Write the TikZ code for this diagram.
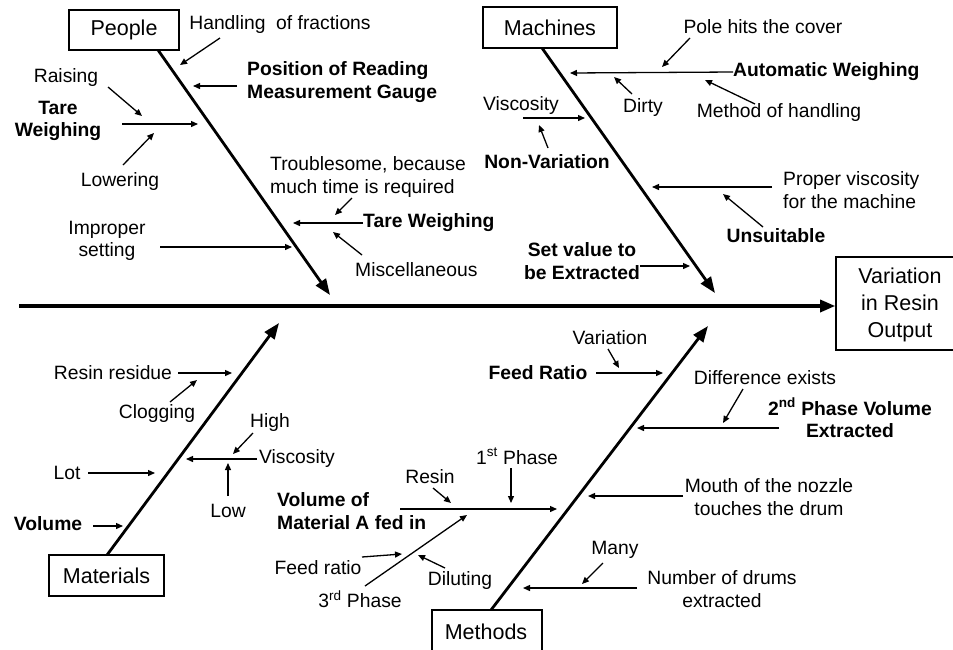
\documentclass[tikz,border=0pt]{standalone}
\usepackage{fontspec}
\setmainfont{Liberation Sans}
\usetikzlibrary{arrows.meta}
\newcommand\fsz{\fontsize{19.3}{22.5}\selectfont}
\newcommand\fcat{\fontsize{21.5}{27}\selectfont}
\tikzset{
  lbl/.style={font=\fsz, inner sep=0pt, align=center},
  blbl/.style={font=\fsz\bfseries, inner sep=0pt, align=center},
  catbox/.style={draw, line width=1.6pt, font=\fcat, inner sep=0pt, align=center},
  bone/.style={line width=2.8pt, -{Triangle[length=16pt,width=12pt]}},
  spine/.style={line width=3.2pt, -{Triangle[length=15pt,width=12pt]}},
  subarr/.style={line width=1.3pt, -{Triangle[length=7pt,width=6pt]}},
}
\begin{document}
\begin{tikzpicture}[x=1pt,y=-1pt]
\useasboundingbox (0,0) rectangle (953,649);
\clip (0,0) rectangle (953,649);
\fill[white] (0,0) rectangle (953,649);

% ---------- category boxes ----------
\node[catbox, minimum width=110pt, minimum height=40pt] (people) at (124,30) {People};
\node[catbox, minimum width=134pt, minimum height=41pt] (machines) at (550,27.5) {Machines};
\node[catbox, minimum width=115pt, minimum height=41pt] (materials) at (106.5,575.5) {Materials};
\node[catbox, minimum width=110pt, minimum height=44pt] (methods) at (487,632) {};
\node[font=\fcat, inner sep=0pt] (methodst) at (486,632) {Methods};
\node[catbox, minimum width=130pt, minimum height=93pt] (effect) at (901,303.5) {};
\node[font=\fcat, inner sep=0pt, align=center] (effectt) at (900,305) {Variation\\in Resin\\Output};

% ---------- spine and bones ----------
\coordinate (spst) at (19,306);
\draw[spine] (spst) -- (effect.west |- spst);

\coordinate (pb0) at (158,50);   \coordinate (pb1) at (330,295);
\coordinate (mb0) at (542,48);   \coordinate (mb1) at (715,293);
\coordinate (tb0) at (107,555);  \coordinate (tb1) at (279,323);
\coordinate (hb0) at (491,610);  \coordinate (hb1) at (708,326);
\draw[bone] (pb0) -- (pb1);
\draw[bone] (mb0) -- (mb1);
\draw[bone] (tb0) -- (tb1);
\draw[bone] (hb0) -- (hb1);

% ---------- People ----------
\node[lbl] (handling) at (280,25) {Handling\ \ of fractions};
\node[blbl, align=left, anchor=west] (position) at (247,82) {Position of Reading\\Measurement Gauge};
\node[lbl] (raising) at (66,78) {Raising};
\node[blbl] (tarew1) at (58,121) {Tare\\Weighing};
\node[lbl] (lowering) at (120,182) {Lowering};
\node[lbl, align=left, anchor=west] (trouble) at (270,177) {Troublesome, because\\much time is required};
\node[blbl, anchor=west] (tarew2) at (363,223) {Tare Weighing};
\node[lbl, anchor=west] (misc) at (355,270) {Miscellaneous};
\node[lbl] (improper) at (107,241) {Improper\\setting};

\coordinate (p1a) at (220,38);  \coordinate (p1b) at (180,65);
\coordinate (p2a) at (237,86);  \coordinate (p2b) at (193,86);
\coordinate (p3a) at (108,87);  \coordinate (p3b) at (142,116);
\coordinate (p4a) at (122,124); \coordinate (p4b) at (198,124);
\coordinate (p5a) at (123,165); \coordinate (p5b) at (154,133);
\coordinate (p6a) at (352,198); \coordinate (p6b) at (335,215);
\coordinate (p7b) at (293,223);
\coordinate (p8a) at (362,255); \coordinate (p8b) at (333,232);
\coordinate (p9a) at (160,247); \coordinate (p9b) at (292,247);
\draw[subarr] (p1a) -- (p1b);
\draw[subarr] (p2a) -- (p2b);
\draw[subarr] (p3a) -- (p3b);
\draw[subarr] (p4a) -- (p4b);
\draw[subarr] (p5a) -- (p5b);
\draw[subarr] (p6a) -- (p6b);
\draw[subarr] (tarew2.west) -- (p7b);
\draw[subarr] (p8a) -- (p8b);
\draw[subarr] (p9a) -- (p9b);

% ---------- Machines ----------
\node[lbl] (pole) at (763,27) {Pole hits the cover};
\node[blbl, anchor=west] (autow) at (733,72) {Automatic Weighing};
\node[lbl] (dirty) at (643,108) {Dirty};
\node[lbl] (methodh) at (779,113) {Method of handling};
\node[lbl] (visc1) at (521,106) {Viscosity};
\node[blbl] (nonvar) at (547,162) {Non-Variation};
\node[lbl, align=left, anchor=west] (proper) at (783,190) {Proper viscosity\\for the machine};
\node[blbl] (unsuit) at (776,236) {Unsuitable};
\node[blbl] (setval) at (582,261) {Set value to\\be Extracted};

\coordinate (m1a) at (690,38);  \coordinate (m1b) at (662,67);
\coordinate (m2b) at (570,73);
\coordinate (m3a) at (632,94);  \coordinate (m3b) at (614,77);
\coordinate (m4a) at (755,104); \coordinate (m4b) at (705,80);
\coordinate (m5a) at (523,118); \coordinate (m5b) at (585,118);
\coordinate (m6a) at (548,148); \coordinate (m6b) at (539,125);
\coordinate (m7a) at (772,187); \coordinate (m7b) at (652,187);
\coordinate (m8a) at (763,227); \coordinate (m8b) at (723,194);
\coordinate (m9a) at (640,266); \coordinate (m9b) at (690,266);
\draw[subarr] (m1a) -- (m1b);
\draw[subarr] (autow.west) -- (m2b);
\draw[subarr] (m3a) -- (m3b);
\draw[subarr] (m4a) -- (m4b);
\draw[subarr] (m5a) -- (m5b);
\draw[subarr] (m6a) -- (m6b);
\draw[subarr] (m7a) -- (m7b);
\draw[subarr] (m8a) -- (m8b);
\draw[subarr] (m9a) -- (m9b);

% ---------- Materials ----------
\node[lbl] (resres) at (113,373) {Resin residue};
\node[lbl] (clog) at (157,413) {Clogging};
\node[lbl] (high) at (270,423) {High};
\node[lbl] (visc2) at (297,458) {Viscosity};
\node[lbl] (low) at (228,511) {Low};
\node[lbl] (lot) at (67,473) {Lot};
\node[blbl] (volume) at (48,524) {Volume};

\coordinate (t1a) at (178,373); \coordinate (t1b) at (232,373);
\coordinate (t2a) at (170,402); \coordinate (t2b) at (197,380);
\coordinate (t3a) at (253,433); \coordinate (t3b) at (233,454);
\coordinate (t4a) at (257,459); \coordinate (t4b) at (186,459);
\coordinate (t5a) at (228,496); \coordinate (t5b) at (228,463);
\coordinate (t6a) at (88,473);  \coordinate (t6b) at (155,473);
\coordinate (t7a) at (93,526);  \coordinate (t7b) at (123,526);
\draw[subarr] (t1a) -- (t1b);
\draw[subarr] (t2a) -- (t2b);
\draw[subarr] (t3a) -- (t3b);
\draw[subarr] (t4a) -- (t4b);
\draw[subarr] (t5a) -- (t5b);
\draw[subarr] (t6a) -- (t6b);
\draw[subarr] (t7a) -- (t7b);

% ---------- Methods ----------
\node[lbl] (variation) at (610,338) {Variation};
\node[blbl] (feedr) at (538,373) {Feed Ratio};
\node[lbl] (diff) at (765,378) {Difference exists};
\node[blbl] (phase2) at (850,418) {2\textsuperscript{nd} Phase Volume\\Extracted};
\node[lbl] (phase1) at (517,456) {1\textsuperscript{st} Phase};
\node[blbl, align=left, anchor=west] (volA) at (277,511) {Volume of\\Material A fed in};
\node[lbl] (resin) at (430,477) {Resin};
\node[lbl] (feedr2) at (318,568) {Feed ratio};
\node[lbl] (dilut) at (460,580) {Diluting};
\node[lbl] (phase3) at (360,599) {3\textsuperscript{rd} Phase};
\node[lbl] (mouth) at (769,497) {Mouth of the nozzle\\touches the drum};
\node[lbl] (many) at (615,550) {Many};
\node[lbl] (ndrums) at (722,589) {Number of drums\\extracted};

\coordinate (h1a) at (608,349); \coordinate (h1b) at (619,368);
\coordinate (h2a) at (596,373); \coordinate (h2b) at (663,373);
\coordinate (h3a) at (743,389); \coordinate (h3b) at (723,423);
\coordinate (h4a) at (779,428); \coordinate (h4b) at (637,428);
\coordinate (h5a) at (511,468); \coordinate (h5b) at (511,503);
\coordinate (h6a) at (400,509); \coordinate (h6b) at (557,509);
\coordinate (h7a) at (433,488); \coordinate (h7b) at (451,503);
\coordinate (h8a) at (365,586); \coordinate (h8b) at (467,515);
\coordinate (h9a) at (362,557); \coordinate (h9b) at (402,554);
\coordinate (h10a) at (445,568); \coordinate (h10b) at (418,555);
\coordinate (h11a) at (683,496); \coordinate (h11b) at (588,496);
\coordinate (h12a) at (603,563); \coordinate (h12b) at (582,584);
\coordinate (h13a) at (637,588); \coordinate (h13b) at (523,588);
\draw[subarr] (h1a) -- (h1b);
\draw[subarr] (h2a) -- (h2b);
\draw[subarr] (h3a) -- (h3b);
\draw[subarr] (h4a) -- (h4b);
\draw[subarr] (h5a) -- (h5b);
\draw[subarr] (h6a) -- (h6b);
\draw[subarr] (h7a) -- (h7b);
\draw[subarr] (h8a) -- (h8b);
\draw[subarr] (h9a) -- (h9b);
\draw[subarr] (h10a) -- (h10b);
\draw[subarr] (h11a) -- (h11b);
\draw[subarr] (h12a) -- (h12b);
\draw[subarr] (h13a) -- (h13b);
\end{tikzpicture}
\end{document}
